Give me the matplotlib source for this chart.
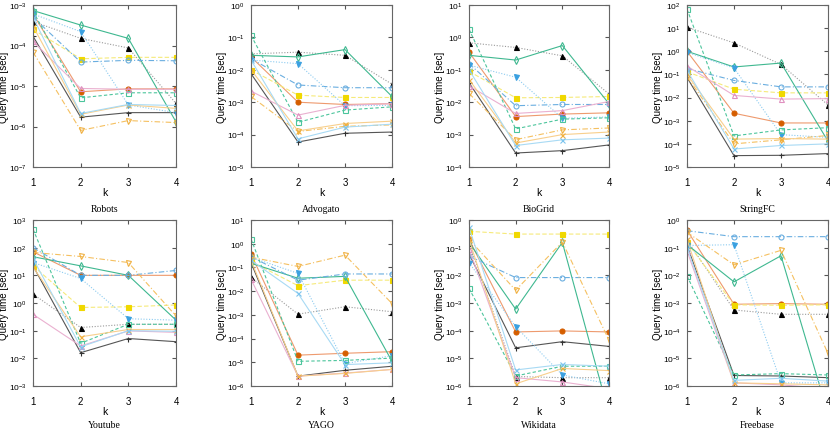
import math
import matplotlib
matplotlib.use("Agg")
import matplotlib.pyplot as plt
from matplotlib.ticker import LogLocator, FuncFormatter, NullLocator

plt.rcParams['font.family'] = ['Liberation Sans', 'DejaVu Sans']
plt.rcParams['mathtext.fontset'] = 'custom'
plt.rcParams['mathtext.rm'] = 'Liberation Sans'
plt.rcParams['mathtext.it'] = 'Liberation Sans:italic'

# valores de k
ks = [1, 2, 3, 4]

# ordem das series:
# 0 preto +, 1 preto triangulo, 2 laranja circulo, 3 amarelo quadrado,
# 4 verde losango, 5 azul circulo aberto, 6 azul triangulo p/ baixo,
# 7 verde quadrado aberto, 8 rosa triangulo, 9 laranja triangulo aberto,
# 10 laranja x, 11 azul claro x
robots = [
    [1.7e-4, 1.7e-6, 2.2e-6, 2.2e-6],
    [3.9e-4, 1.5e-4, 8.7e-5, 3.7e-6],
    [6.0e-4, 7.2e-6, 8.5e-6, 8.5e-6],
    [2.5e-4, 4.7e-5, 5.1e-5, 5.1e-5],
    [7.3e-4, 3.2e-4, 1.5e-4, 1.3e-6],
    [5.0e-4, 3.9e-5, 4.3e-5, 4.2e-5],
    [6.0e-4, 2.2e-4, 3.4e-6, 2.2e-6],
    [7.0e-4, 5.1e-6, 6.8e-6, 6.8e-6],
    [1.26e-4, 8.7e-6, 8.3e-6, 8.3e-6],
    [6.9e-5, 8.0e-7, 1.4e-6, 1.25e-6],
    [3.0e-4, 2.0e-6, 3.4e-6, 2.8e-6],
    [5.0e-4, 2.1e-6, 3.5e-6, 3.3e-6],
]
advogato = [
    [7.6e-3, 5.9e-5, 1.1e-4, 1.2e-4],
    [3.1e-2, 3.5e-2, 2.8e-2, 3.6e-3],
    [2.5e-2, 1.0e-3, 8.5e-4, 9.0e-4],
    [1.0e-2, 1.65e-3, 1.4e-3, 1.4e-3],
    [2.8e-2, 2.5e-2, 4.2e-2, 1.5e-3],
    [2.2e-2, 3.4e-3, 2.8e-3, 2.8e-3],
    [2.0e-2, 1.55e-2, 7.8e-4, 8.0e-4],
    [1.15e-1, 2.4e-4, 5.7e-4, 7.2e-4],
    [2.2e-3, 4.0e-4, 8.0e-4, 9.0e-4],
    [1.5e-3, 1.25e-4, 1.8e-4, 2.0e-4],
    [1.0e-2, 1.3e-4, 2.2e-4, 2.6e-4],
    [2.0e-2, 7.4e-5, 1.7e-4, 2.1e-4],
]
biogrid = [
    [4.0e-2, 2.7e-4, 3.2e-4, 4.8e-4],
    [6.8e-1, 4.9e-1, 2.7e-1, 1.8e-2],
    [3.5e-1, 3.6e-3, 4.3e-3, 4.7e-3],
    [9.0e-2, 1.37e-2, 1.4e-2, 1.5e-2],
    [2.8e-1, 2.0e-1, 5.6e-1, 9.0e-3],
    [1.55e-1, 7.8e-3, 8.5e-3, 8.5e-3],
    [1.4e-1, 5.9e-2, 3.2e-3, 3.5e-3],
    [1.8e0, 1.5e-3, 3.0e-3, 3.3e-3],
    [3.2e-2, 4.5e-3, 5.5e-3, 1.05e-2],
    [1.86e-2, 7.0e-4, 1.4e-3, 1.6e-3],
    [5.0e-2, 5.5e-4, 1.0e-3, 1.2e-3],
    [1.0e-1, 4.6e-4, 6.9e-4, 7.8e-4],
]
stringfc = [
    [7.4e-2, 3.1e-5, 3.2e-5, 3.8e-5],
    [1.1e1, 2.3e0, 2.7e-1, 4.8e-3],
    [1.0e0, 2.1e-3, 8.0e-4, 8.0e-4],
    [1.3e-1, 2.3e-2, 1.6e-2, 1.6e-2],
    [1.0e0, 2.1e-1, 3.1e-1, 1.3e-4],
    [1.8e-1, 5.5e-2, 2.9e-2, 2.9e-2],
    [9.0e-1, 1.9e-1, 2.5e-4, 1.9e-4],
    [6.7e1, 2.2e-4, 4.0e-4, 5.0e-4],
    [2.3e-1, 1.24e-2, 8.6e-3, 9.0e-3],
    [8.0e-2, 1.0e-4, 1.5e-4, 2.3e-4],
    [1.0e-1, 1.6e-4, 1.7e-4, 1.6e-4],
    [1.5e-1, 6.0e-5, 8.5e-5, 1.0e-4],
]
youtube = [
    [2.2e1, 1.6e-2, 5.2e-2, 4.0e-2],
    [2.1e0, 1.3e-1, 1.7e-1, 1.7e-1],
    [7.1e1, 1.0e1, 1.0e1, 1.0e1],
    [2.2e1, 6.9e-1, 7.3e-1, 8.5e-1],
    [4.7e1, 2.2e1, 1.0e1, 2.4e-1],
    [1.0e2, 1.0e1, 1.0e1, 1.5e1],
    [2.9e1, 7.7e0, 2.7e-1, 2.4e-1],
    [4.7e2, 3.5e-2, 1.7e-1, 1.7e-1],
    [3.9e-1, 2.8e-2, 9.8e-2, 8.7e-2],
    [6.7e1, 4.8e1, 2.9e1, 3.4e-1],
    [2.0e1, 6.0e-2, 1.1e-1, 1.1e-1],
    [4.0e1, 2.6e-2, 1.0e-1, 9.5e-2],
]
yago = [
    [1.6e-1, 2.6e-6, 4.6e-6, 6.8e-6],
    [3.8e-2, 1.07e-3, 2.2e-3, 1.35e-3],
    [3.7e-1, 2.0e-5, 2.4e-5, 2.8e-5],
    [1.8e-1, 1.7e-2, 2.9e-2, 2.9e-2],
    [1.5e-1, 3.5e-2, 4.2e-2, 1.1e-5],
    [2.8e-1, 2.9e-2, 5.3e-2, 5.3e-2],
    [2.7e-1, 5.6e-2, 8.8e-6, 1.9e-5],
    [1.6e0, 1.1e-5, 1.2e-5, 1.5e-5],
    [3.2e-2, 2.6e-6, 3.5e-6, 5.0e-6],
    [2.7e-1, 1.1e-1, 3.3e-1, 3.0e-3],
    [2.0e-1, 2.6e-6, 3.4e-6, 5.0e-6],
    [2.0e-1, 8.0e-3, 8.0e-6, 9.5e-6],
]
wikidata = [
    [6.0e-2, 2.4e-5, 4.0e-5, 2.7e-5],
    [1.5e-1, 2.2e-6, 2.0e-6, 2.0e-6],
    [2.0e-1, 9.0e-5, 9.8e-5, 9.0e-5],
    [3.9e-1, 3.1e-1, 3.1e-1, 3.1e-1],
    [1.55e-1, 6.0e-4, 1.55e-1, 1.0e-7],
    [5.0e-2, 8.3e-3, 8.3e-3, 8.3e-3],
    [2.9e-2, 1.4e-4, 2.5e-6, 1.2e-6],
    [3.4e-3, 2.3e-6, 5.2e-6, 5.2e-6],
    [8.9e-2, 2.0e-6, 1.4e-6, 8.0e-7],
    [2.0e-1, 2.9e-3, 1.6e-1, 4.5e-5],
    [2.0e-1, 1.2e-6, 4.3e-6, 3.6e-6],
    [5.4e-1, 3.8e-6, 6.0e-6, 5.2e-6],
]
freebase = [
    [1.2e-1, 2.4e-6, 2.3e-6, 2.0e-6],
    [1.9e-1, 5.6e-4, 3.9e-4, 3.9e-4],
    [4.3e-1, 9.0e-4, 9.5e-4, 9.0e-4],
    [1.55e-1, 8.6e-4, 8.3e-4, 8.6e-4],
    [1.3e-1, 5.8e-3, 5.1e-2, 1.0e-7],
    [4.1e-1, 2.5e-1, 2.5e-1, 2.5e-1],
    [1.2e-1, 1.28e-1, 1.3e-6, 1.3e-6],
    [9.6e-3, 2.5e-6, 2.8e-6, 2.5e-6],
    [7.7e-2, 1.3e-6, 1.1e-6, 8.0e-7],
    [3.6e-1, 2.4e-2, 8.0e-2, 1.5e-5],
    [2.0e-1, 1.3e-6, 1.2e-6, 1.1e-6],
    [1.0e-1, 1.6e-6, 1.9e-6, 1.5e-6],
]

nomes = ["Robots", "Advogato", "BioGrid", "StringFC",
         "Youtube", "YAGO", "Wikidata", "Freebase"]
dados = [robots, advogato, biogrid, stringfc,
         youtube, yago, wikidata, freebase]
limites = [(1e-7, 1e-3), (1e-5, 1e0), (1e-4, 1e1), (1e-5, 1e2),
           (1e-3, 1e3), (1e-6, 1e1), (1e-6, 1e0), (1e-6, 1e0)]

# estilo de cada serie: (cor linha, cor marcador, marcador, preenchido, tracejado)
estilos = [
    ("#555555", "#333333", "+", True, "-"),
    ("#9a9a9a", "#000000", "^", True, (0, (1, 1.5))),
    ("#ee9a6e", "#d55e00", "o", True, "-"),
    ("#f6ea7a", "#f0d800", "s", True, (0, (4, 2))),
    ("#3fb890", "#3fb890", "d", False, "-"),
    ("#6aaee0", "#6aaee0", "o", False, (0, (5, 2, 1, 2))),
    ("#8ccbf0", "#3aa0e0", "v", True, (0, (1, 1.5))),
    ("#4cc59c", "#4cc59c", "s", False, (0, (3, 2))),
    ("#eab0d0", "#e090c0", "^", False, "-"),
    ("#f5c060", "#f0b040", "v", False, (0, (5, 2, 1, 2))),
    ("#f8cf8c", "#f0b040", "x", True, "-"),
    ("#a8daf4", "#7cc4ee", "x", True, "-"),
]

W, H = 830, 431
fig = plt.figure(figsize=(W / 100, H / 100), dpi=100)

# posicoes em pixels: (esquerda, largura) e (topo, base)
colunas = [(33, 143), (251, 141), (469, 140), (687, 141)]
linhas = [(6, 168), (221, 387)]
kx_y = [193, 412]
nome_y = [210, 426]

def fmt(v, pos):
    e = int(round(math.log10(v)))
    return r"$10^{%d}$" % e

for i, (nome, serie, (ymin, ymax)) in enumerate(zip(nomes, dados, limites)):
    r, c = divmod(i, 4)
    x0, w = colunas[c]
    top, bot = linhas[r]
    ax = fig.add_axes([x0 / W, 1 - bot / H, w / W, (bot - top) / H])
    for vals, (lc, mc, mk, cheio, ls) in zip(serie, estilos):
        ax.plot(ks, vals, color=lc, linestyle=ls, linewidth=0.8)
        ax.plot(ks, vals, linestyle="none", marker=mk, markersize=3.6,
                markeredgecolor=mc, markerfacecolor=mc if cheio else "none",
                markeredgewidth=0.8)
    ax.set_yscale("log")
    ax.set_ylim(ymin, ymax)
    ax.set_xlim(1, 4)
    ax.set_xticks(ks)
    ax.yaxis.set_major_locator(LogLocator(base=10, numticks=20))
    ax.yaxis.set_minor_locator(NullLocator())
    ax.yaxis.set_major_formatter(FuncFormatter(fmt))
    ax.tick_params(direction="in", length=3, top=True, right=True,
                   color="#555555")
    ax.tick_params(axis="x", pad=7, labelsize=7)
    ax.tick_params(axis="y", pad=4.5, labelsize=6)
    for s in ax.spines.values():
        s.set_color("#666666")
        s.set_linewidth(0.8)
    fig.text((x0 - 29) / W, 1 - (top + bot) / 2 / H, "Query time [sec]",
             rotation=90, ha="center", va="center", fontsize=7)
    fig.text((x0 + w / 2) / W, 1 - kx_y[r] / H, "k",
             ha="center", va="center", fontsize=7.5)
    fig.text((x0 + w / 2) / W, 1 - nome_y[r] / H, nome, ha="center",
             va="center", fontsize=7, family="Liberation Serif")

fig.savefig("out.png", dpi=100)
